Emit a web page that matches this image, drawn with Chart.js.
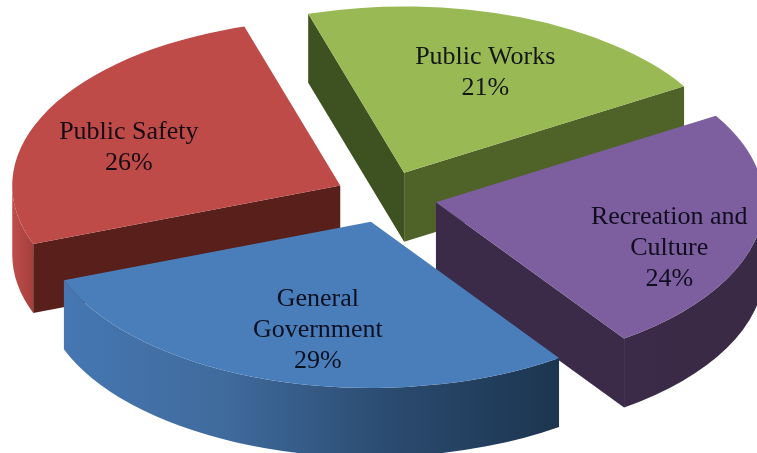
<!DOCTYPE html>
<html>
<head>
<meta charset="utf-8">
<title>Expenditures by function</title>
<script src="https://cdn.jsdelivr.net/npm/chart.js@4"></script>
<style>
    html, body { margin: 0; padding: 0; background: #fff; }
    canvas { display: block; }
</style>
</head>
<body>
<canvas id="expenseChart" width="757" height="453"></canvas>
<script>
const categories = ['General Government', 'Public Safety', 'Public Works', 'Recreation and Culture'];
const shares = [29, 26, 21, 24];
const labelLines = [['General', 'Government'], ['Public Safety'], ['Public Works'], ['Recreation and', 'Culture']];

const topColors = ['#4a7ebb', '#be4b48', '#98b954', '#7d5fa0'];
// side walls: [start edge, end edge, outer wall gradient left -> right]
const wallColors = [
    [null, null, ['#4677b2', '#3f6a9c', '#2a4a6e', '#1c3550']],
    ['#581f1b', null, ['#bd4d4a', '#a63f3c']],
    ['#3e5121', '#4f6228', null],
    [null, '#3b2a48', ['#3b2a48', '#3a2a45']]
];
// label anchor tweaks, added to a point part way along each slice
const labelNudge = [[12, 2], [-14, 11], [3, 4], [18, 23]];

const SQUASH = 0.507;    // vertical flattening of the pie plane
const DEPTH = 69;        // height of the extruded slices
const LABEL_DIST = 220;
const LINE_HEIGHT = 31;
const TWO_PI = 2 * Math.PI;

// Chart.js lays out the arcs, this plugin paints them as raised slices
const extrudedPie = {
    id: 'extrudedPie',
    beforeDatasetDraw(chart, args) {
        const ctx = chart.ctx;
        const slices = args.meta.data.map((arc, i) => {
            const mid = (arc.startAngle + arc.endAngle) / 2;
            const off = arc.options.offset;
            return {
                i,
                start: arc.startAngle,
                end: arc.endAngle,
                mid,
                r: arc.outerRadius,
                x: arc.x + Math.cos(mid) * off,
                y: arc.y + Math.sin(mid) * off * SQUASH
            };
        });

        // back to front, so nearer slices cover the walls behind them
        const ordered = slices.slice().sort((a, b) => Math.sin(a.mid) - Math.sin(b.mid));
        ordered.forEach(s => drawSlice(ctx, s));
        slices.forEach(s => drawLabel(ctx, s));
        return false;
    }
};

function edgePoint(s, angle) {
    return [s.x + Math.cos(angle) * s.r, s.y + Math.sin(angle) * s.r * SQUASH];
}

function drawRadialWall(ctx, s, angle, color) {
    const p = edgePoint(s, angle);
    ctx.fillStyle = color;
    ctx.beginPath();
    ctx.moveTo(s.x, s.y);
    ctx.lineTo(p[0], p[1]);
    ctx.lineTo(p[0], p[1] + DEPTH);
    ctx.lineTo(s.x, s.y + DEPTH);
    ctx.closePath();
    ctx.fill();
}

function drawOuterWall(ctx, s, stops) {
    // only the part of the rim that faces the viewer, angles 0..PI
    let from = s.start, to = s.end;
    if (from > Math.PI) {
        from -= TWO_PI;
        to -= TWO_PI;
    }
    from = Math.max(from, 0);
    to = Math.min(to, Math.PI);
    if (to <= from) {
        return;
    }
    const a = edgePoint(s, from), b = edgePoint(s, to);
    const grad = ctx.createLinearGradient(Math.min(a[0], b[0]), 0, Math.max(a[0], b[0]), 0);
    stops.forEach((c, k) => grad.addColorStop(k / (stops.length - 1), c));
    ctx.fillStyle = grad;
    ctx.beginPath();
    ctx.ellipse(s.x, s.y, s.r, s.r * SQUASH, 0, from, to);
    ctx.ellipse(s.x, s.y + DEPTH, s.r, s.r * SQUASH, 0, to, from, true);
    ctx.closePath();
    ctx.fill();
}

function drawSlice(ctx, s) {
    const walls = wallColors[s.i];
    if (walls[0]) {
        drawRadialWall(ctx, s, s.start, walls[0]);
    }
    if (walls[1]) {
        drawRadialWall(ctx, s, s.end, walls[1]);
    }
    if (walls[2]) {
        drawOuterWall(ctx, s, walls[2]);
    }
    ctx.fillStyle = topColors[s.i];
    ctx.beginPath();
    ctx.moveTo(s.x, s.y);
    ctx.ellipse(s.x, s.y, s.r, s.r * SQUASH, 0, s.start, s.end);
    ctx.closePath();
    ctx.fill();
}

function drawLabel(ctx, s) {
    const lines = labelLines[s.i].concat(shares[s.i] + '%');
    const nudge = labelNudge[s.i];
    const cx = s.x + Math.cos(s.mid) * LABEL_DIST + nudge[0];
    const cy = s.y + Math.sin(s.mid) * LABEL_DIST * SQUASH + nudge[1];
    ctx.save();
    ctx.font = '26px "Liberation Serif"';
    ctx.textAlign = 'center';
    ctx.textBaseline = 'middle';
    ctx.fillStyle = 'rgba(4, 4, 16, 0.9)';
    lines.forEach((line, k) => {
        ctx.fillText(line, cx, cy + (k - (lines.length - 1) / 2) * LINE_HEIGHT);
    });
    ctx.restore();
}

const canvas = document.querySelector('#expenseChart');

new Chart(canvas, {
    type: 'pie',
    data: {
        labels: categories,
        datasets: [{
            data: shares,
            backgroundColor: topColors,
            borderWidth: 0,
            offset: 51
        }]
    },
    options: {
        responsive: false,
        animation: false,
        rotation: 145,
        radius: 328,
        // puts the pie centre where the exploded slices meet
        layout: { padding: { left: 15, bottom: 59 } },
        plugins: {
            legend: { display: false },
            tooltip: { enabled: false }
        }
    },
    plugins: [extrudedPie]
});
</script>
</body>
</html>
